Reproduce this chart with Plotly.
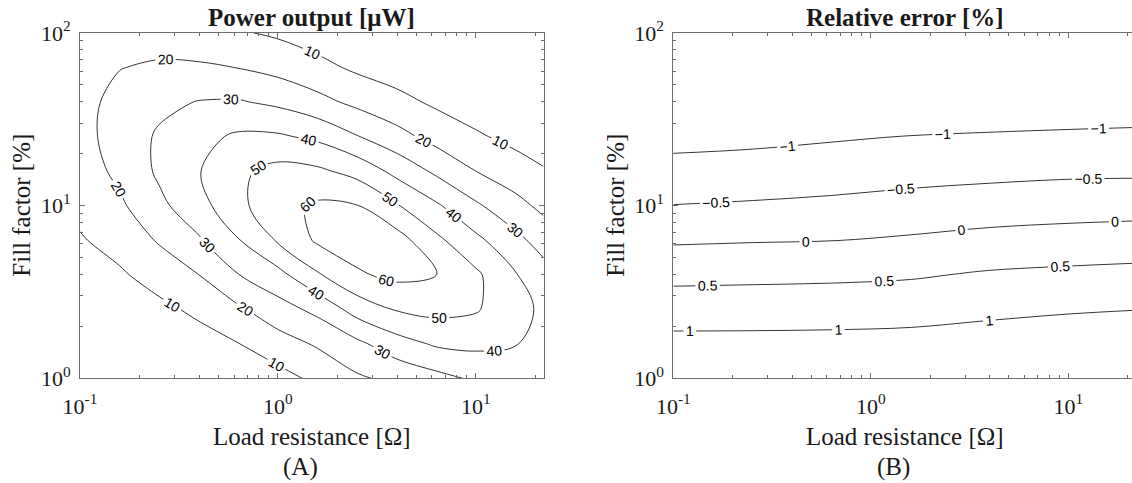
import plotly.graph_objects as go

# ---- Panel A: power output over load resistance x fill factor ----
load_resistance_a = [0.1, 0.1585, 0.2512, 0.3981, 0.631, 1.0, 1.585, 2.512, 3.981, 6.31, 10.0, 15.85, 22.0]
fill_factor_a = [1.0, 1.585, 2.512, 3.981, 6.31, 10.0, 15.85, 25.12, 39.81, 63.1, 100.0]

# rows follow fill_factor_a, columns follow load_resistance_a  [uW]
power_uw = [
    [1.0, 1.2, 1.6, 2.8, 4.4, 6.5, 12.2, 18.6, 22.5, 27.0, 31.5, 35.0, 32.0],
    [2.0, 2.6, 3.8, 6.2, 9.8, 15.7, 21.2, 27.8, 35.9, 41.3, 42.3, 40.4, 36.8],
    [3.7, 5.1, 7.8, 12.0, 18.5, 26.0, 32.6, 44.2, 50.8, 52.9, 51.0, 43.0, 38.4],
    [6.1, 8.8, 13.8, 20.0, 29.8, 36.9, 48.9, 58.7, 62.5, 60.4, 51.8, 40.6, 34.0],
    [9.2, 13.4, 21.0, 28.9, 39.5, 51.1, 61.5, 65.0, 64.3, 52.2, 42.3, 32.8, 25.8],
    [12.4, 18.3, 27.7, 36.3, 47.5, 56.7, 61.5, 60.3, 50.8, 41.4, 31.5, 23.1, 17.6],
    [15.2, 22.2, 31.6, 39.5, 48.1, 53.1, 51.8, 46.7, 37.1, 28.1, 20.0, 14.5, 10.7],
    [16.8, 24.0, 31.3, 37.2, 41.5, 41.3, 37.9, 30.5, 23.4, 16.5, 11.3, 7.2, 5.4],
    [16.8, 23.0, 27.6, 30.4, 30.8, 28.0, 23.0, 17.6, 13.0, 8.3, 4.8, 3.3, 2.7],
    [15.2, 19.7, 21.5, 21.4, 19.8, 16.8, 12.8, 8.3, 5.2, 3.6, 2.0, 1.5, 1.4],
    [12.4, 14.9, 15.0, 13.1, 10.9, 8.6, 5.3, 3.4, 2.0, 1.5, 0.9, 0.7, 0.7],
]

# ---- Panel B: relative error of the model [%] ----
load_resistance_b = [0.1, 0.2512, 0.631, 1.585, 3.981, 10.0, 22.0]
fill_factor_b = [1.585, 2.512, 3.981, 6.31, 10.0, 15.85, 25.12, 39.81]

# rows follow fill_factor_b, columns follow load_resistance_b  [%]
relative_error = [
    [1.14, 1.14, 1.15, 1.17, 1.23, 1.31, 1.34],
    [0.76, 0.77, 0.78, 0.81, 0.89, 0.95, 0.99],
    [0.37, 0.39, 0.41, 0.45, 0.55, 0.60, 0.63],
    [-0.06, -0.03, -0.01, 0.06, 0.15, 0.20, 0.24],
    [-0.49, -0.45, -0.40, -0.33, -0.26, -0.21, -0.19],
    [-0.83, -0.79, -0.74, -0.67, -0.63, -0.59, -0.58],
    [-1.16, -1.12, -1.05, -0.99, -0.96, -0.93, -0.91],
    [-1.49, -1.45, -1.37, -1.31, -1.28, -1.27, -1.25],
]

x_tickvals = [0.1, 1, 10]
x_ticktext = ["10<sup>-1</sup>", "10<sup>0</sup>", "10<sup>1</sup>"]
y_tickvals = [1, 10, 100]
y_ticktext = ["10<sup>0</sup>", "10<sup>1</sup>", "10<sup>2</sup>"]
x_minor = [0.2, 0.3, 0.4, 0.5, 0.6, 0.7, 0.8, 0.9, 2, 3, 4, 5, 6, 7, 8, 9, 20]
y_minor = [2, 3, 4, 5, 6, 7, 8, 9, 20, 30, 40, 50, 60, 70, 80, 90]

W, H = 1132, 483
SERIF = "Liberation Serif"
AXIS_COLOR = "#6e6e6e"
TEXT_COLOR = "#1a1a1a"


def px_x(p):
    return p / W


def px_y(p):
    return 1 - p / H


fig = go.Figure()

# Levels continue past the data maximum (those stay empty); Plotly spaces
# inline labels more tightly when a trace carries more levels.
fig.add_trace(go.Contour(
    x=load_resistance_a, y=fill_factor_a, z=power_uw,
    xaxis="x", yaxis="y",
    contours=dict(coloring="none", start=10, end=470, size=10,
                  showlabels=True, labelformat=".0f",
                  labelfont=dict(family="Liberation Sans", size=14, color="black")),
    line=dict(color="black", width=0.8),
    showscale=False, hoverinfo="skip",
))

fig.add_trace(go.Contour(
    x=load_resistance_b, y=fill_factor_b, z=relative_error,
    xaxis="x2", yaxis="y2",
    contours=dict(coloring="none", start=-1, end=33, size=0.5,
                  showlabels=True, labelformat=".1~f",
                  labelfont=dict(family="Liberation Sans", size=14, color="black")),
    line=dict(color="black", width=0.8),
    showscale=False, hoverinfo="skip",
))

axis_common = dict(
    type="log", showgrid=False, zeroline=False, automargin=False,
    showline=True, linecolor=AXIS_COLOR, linewidth=1,
    ticks="inside", ticklen=5, tickwidth=1, tickcolor=AXIS_COLOR,
    tickfont=dict(family=SERIF, size=22, color=TEXT_COLOR),
)

y_top, y_bottom = 33.0, 378.3

fig.update_layout(
    template="none",
    width=W, height=H,
    margin=dict(l=0, r=0, t=0, b=0, pad=0),
    paper_bgcolor="white", plot_bgcolor="white",
    showlegend=False,
    xaxis=dict(axis_common, domain=[px_x(80), px_x(543.6)], range=[-1, 1.3424],
               anchor="y", mirror="allticks",
               tickvals=x_tickvals, ticktext=x_ticktext, ticklabelstandoff=8,
               minor=dict(tickvals=x_minor, ticks="inside", ticklen=3,
                          tickcolor=AXIS_COLOR, tickwidth=1)),
    yaxis=dict(axis_common, domain=[px_y(y_bottom), px_y(y_top)], range=[0, 2],
               anchor="x", mirror="allticks",
               tickvals=y_tickvals, ticktext=y_ticktext, ticklabelstandoff=4,
               minor=dict(tickvals=y_minor, ticks="inside", ticklen=3,
                          tickcolor=AXIS_COLOR, tickwidth=1)),
    xaxis2=dict(axis_common, domain=[px_x(673.3), 1.0], range=[-1, 1.3225],
                anchor="y2", mirror="allticks",
                tickvals=x_tickvals, ticktext=x_ticktext, ticklabelstandoff=8,
                minor=dict(tickvals=x_minor, ticks="inside", ticklen=3,
                           tickcolor=AXIS_COLOR, tickwidth=1)),
    yaxis2=dict(axis_common, domain=[px_y(y_bottom), px_y(y_top)], range=[0, 2],
                anchor="x2", mirror=False,
                tickvals=y_tickvals, ticktext=y_ticktext, ticklabelstandoff=4,
                minor=dict(tickvals=y_minor, ticks="inside", ticklen=3,
                           tickcolor=AXIS_COLOR, tickwidth=1)),
)

annotations = [
    # panel titles
    dict(text="<b>Power output [\u03bcW]</b>", x=px_x(311.8), y=px_y(17),
         font=dict(family=SERIF, size=25, color=TEXT_COLOR)),
    dict(text="<b>Relative error [%]</b>", x=px_x(904.6), y=px_y(17),
         font=dict(family=SERIF, size=25, color=TEXT_COLOR)),
    # x-axis titles
    dict(text="Load resistance [\u03a9]", x=px_x(311.8), y=px_y(436),
         font=dict(family=SERIF, size=25, color=TEXT_COLOR)),
    dict(text="Load resistance [\u03a9]", x=px_x(904.6), y=px_y(436),
         font=dict(family=SERIF, size=25, color=TEXT_COLOR)),
    # y-axis titles
    dict(text="Fill factor [%]", x=px_x(22), y=px_y(205.7), textangle=-90,
         font=dict(family=SERIF, size=25, color=TEXT_COLOR)),
    dict(text="Fill factor [%]", x=px_x(616), y=px_y(205.7), textangle=-90,
         font=dict(family=SERIF, size=25, color=TEXT_COLOR)),
    # panel tags
    dict(text="(A)", x=px_x(300), y=px_y(467),
         font=dict(family=SERIF, size=25, color=TEXT_COLOR)),
    dict(text="(B)", x=px_x(894), y=px_y(467),
         font=dict(family=SERIF, size=25, color=TEXT_COLOR)),
]
for a in annotations:
    a.update(xref="paper", yref="paper", showarrow=False,
             xanchor="center", yanchor="middle")
fig.update_layout(annotations=annotations)

fig.write_html("out.html")
